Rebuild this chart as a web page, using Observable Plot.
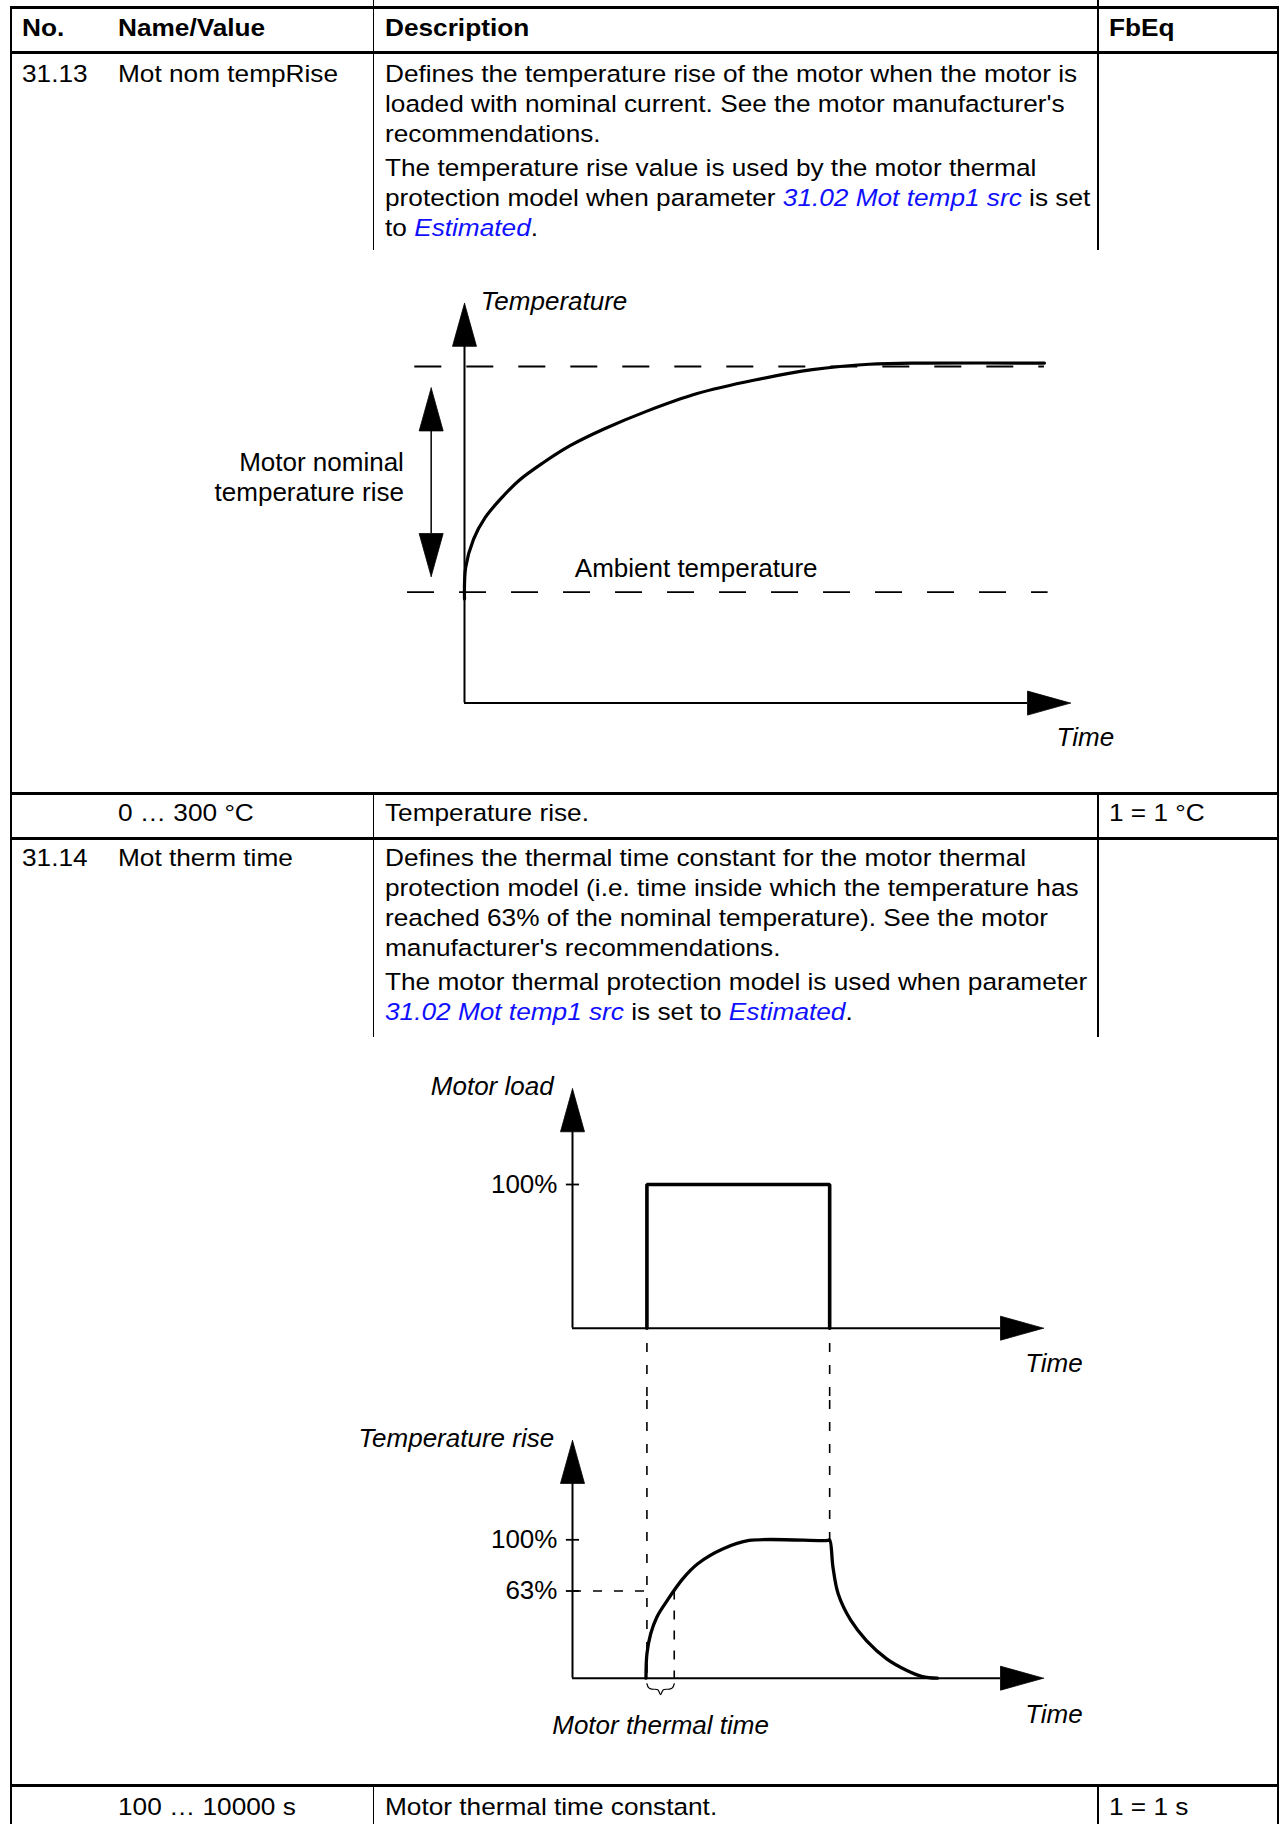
<!DOCTYPE html>
<html><head><meta charset="utf-8">
<script src="https://cdn.jsdelivr.net/npm/d3@7"></script>
<script src="https://cdn.jsdelivr.net/npm/@observablehq/plot@0.6"></script>
<style>
html,body{margin:0;padding:0;background:#fff;}
#page{position:relative;width:1283px;height:1824px;overflow:hidden;font-family:"Liberation Sans",Arial,Helvetica,sans-serif;color:#000;}
.ln{position:absolute;background:#000;}
.t{position:absolute;white-space:pre;font-size:24.5px;line-height:30px;transform:scaleX(1.07);transform-origin:0 0;}
.b{font-weight:bold;}
.lk{color:#1010ff;font-style:italic;}
svg.dg{position:absolute;left:0;}
</style></head><body><div id="page"></div>
<script>
// ---------------- table content ----------------
const headerLabels = ["No.", "Name/Value", "Description", "FbEq"];
const paramNumbers = ["31.13", "31.14"];
const paramNames = ["Mot nom tempRise", "Mot therm time"];
const desc3113 = [
  "Defines the temperature rise of the motor when the motor is",
  "loaded with nominal current. See the motor manufacturer's",
  "recommendations.",
  "The temperature rise value is used by the motor thermal",
  "protection model when parameter {31.02 Mot temp1 src} is set",
  "to {Estimated}."
];
const desc3114 = [
  "Defines the thermal time constant for the motor thermal",
  "protection model (i.e. time inside which the temperature has",
  "reached 63% of the nominal temperature). See the motor",
  "manufacturer's recommendations.",
  "The motor thermal protection model is used when parameter",
  "{31.02 Mot temp1 src} is set to {Estimated}."
];
const valueRanges = ["0 \u2026 300 \u00b0C", "100 \u2026 10000 s"];
const valueDescriptions = ["Temperature rise.", "Motor thermal time constant."];
const fbEqValues = ["1 = 1 \u00b0C", "1 = 1 s"];

// ---------------- diagram 1: temperature rise ----------------
const riseTime = [0, 0.2, 1.5, 3.4, 6.2, 9.0, 12.8, 17.5, 23.2, 29.9, 38.4, 47.9, 57.4, 66.8, 76.3, 95.7];
const riseTemp = [-3, 11, 23.5, 33, 42, 49.5, 57, 65, 72.5, 80, 88, 94, 98.6, 101, 101.5, 101.5];
const levelNames = ["Ambient temperature", "Motor nominal temperature"];
const levelValues = [0, 100];

// ---------------- diagram 2: motor load & temperature rise ----------------
const loadTime = [15.8, 15.8, 54.6, 54.6];
const loadPct = [0, 100, 100, 0];
const heatTime = [15.6, 15.8, 16.6, 17.9, 20.1, 23.4, 26.6, 32.0, 37.5, 54.2, 54.6, 55.3, 56.4, 59.1, 62.4, 66.7, 71.0, 74.3, 77.5];
const heatPct  = [0, 17.6, 32.1, 44.1, 56.1, 71.8, 82.7, 93.5, 99.5, 99.5, 100, 80.2, 61.0, 41.7, 27.2, 14.0, 5.6, 1.2, 0];
const loadTicks = [100];
const tempTicks = [100, 63];
const thermalTimeSpan = [15.8, 21.6]; // load step, 63 % crossing

// ---------------- layout helpers ----------------
const page = document.getElementById("page");
function line(x, y, w, h) {
  const d = document.createElement("div");
  d.className = "ln";
  Object.assign(d.style, {left: x + "px", top: y + "px", width: w + "px", height: h + "px"});
  page.appendChild(d);
}
function hline(y, x1, x2, t) { line(x1, y - t / 2, x2 - x1, t); }
function vline(x, y1, y2, t) { line(x - t / 2, y1, t, y2 - y1); }
function text(str, x, baseline, cls) {
  const d = document.createElement("div");
  d.className = "t" + (cls ? " " + cls : "");
  d.style.left = x + "px";
  d.style.top = (baseline - 23.5) + "px";
  str.split(/(\{[^}]*\})/).forEach(part => {
    if (!part) return;
    const s = document.createElement("span");
    if (part.startsWith("{")) { s.className = "lk"; s.textContent = part.slice(1, -1); }
    else s.textContent = part;
    d.appendChild(s);
  });
  page.appendChild(d);
}

const XL = 10.5, XC1 = 373.5, XC2 = 1098, XR = 1278;
const colX = [22, 118, 385, 1109];

// frame and rules
hline(7.5, XL - 1, XR + 1, 2.2);
vline(XL, 7.5, 1824, 2);
vline(XR, 7.5, 1824, 2);
hline(52.5, XL, XR, 2.4);
hline(793.5, XL, XR, 2.6);
hline(838.5, XL, XR, 2.6);
hline(1785.5, XL, XR, 2.6);
for (const x of [XC1, XC2]) {
  vline(x, 0, 250, 1.6);
  vline(x, 793.5, 1036.5, 1.6);
  vline(x, 1785.5, 1824, 1.6);
}

// header
headerLabels.forEach((h, i) => text(h, colX[i], 36, "b"));
// 31.13
text(paramNumbers[0], colX[0], 82);
text(paramNames[0], colX[1], 82);
[82, 112, 142, 176, 206, 236].forEach((b, i) => text(desc3113[i], colX[2], b));
text(valueRanges[0], colX[1], 821.5);
text(valueDescriptions[0], colX[2], 821.5);
text(fbEqValues[0], colX[3], 821.5);
// 31.14
text(paramNumbers[1], colX[0], 866);
text(paramNames[1], colX[1], 866);
[866, 896, 926, 956, 990, 1020].forEach((b, i) => text(desc3114[i], colX[2], b));
text(valueRanges[1], colX[1], 1815);
text(valueDescriptions[1], colX[2], 1815);
text(fbEqValues[1], colX[3], 1815);

// ---------------- plot helpers ----------------
const FONT = "'Liberation Sans', Arial, Helvetica, sans-serif";
const FS = 26;
const HEAD_LEN = 43, HEAD_HALF = 12;
function makeScales(xs, ys) {
  return [d3.scaleLinear(xs.domain, xs.range), d3.scaleLinear(ys.domain, ys.range)];
}
// arrow head polygons (filled), tips given in data units
function heads(specs, xs, ys) {
  const [sx, sy] = makeScales(xs, ys);
  const out = [];
  specs.forEach(([x, y, dir], k) => {
    const px = sx(x), py = sy(y);
    let p;
    if (dir === "up") p = [[px, py], [px - HEAD_HALF, py + HEAD_LEN], [px + HEAD_HALF, py + HEAD_LEN]];
    else if (dir === "down") p = [[px, py], [px - HEAD_HALF, py - HEAD_LEN], [px + HEAD_HALF, py - HEAD_LEN]];
    else p = [[px, py], [px - HEAD_LEN, py - HEAD_HALF], [px - HEAD_LEN, py + HEAD_HALF]];
    p.concat([p[0]]).forEach(([a, b]) => out.push({k, x: sx.invert(a), y: sy.invert(b)}));
  });
  return out;
}
function headBase(v, dir, xs, ys) {
  const [sx, sy] = makeScales(xs, ys);
  if (dir === "up") return sy.invert(sy(v) + HEAD_LEN);
  if (dir === "down") return sy.invert(sy(v) - HEAD_LEN);
  return sx.invert(sx(v) - HEAD_LEN);
}
function place(svg, top) {
  svg.classList.add("dg");
  svg.style.top = top + "px";
  page.appendChild(svg);
}
const headMark = (data) => Plot.line(data, {x: "x", y: "y", z: "k", fill: "black", stroke: "black", strokeWidth: 0.8, curve: "linear"});
const label = (data, opts) => Plot.text(data, {x: "x", y: "y", text: "text", fontSize: FS, fill: "black", ...opts});

// ---------------- diagram 1 ----------------
{
  const top = 250;
  const xs = {domain: [0, 100], range: [464, 1070]};
  const ys = {domain: [0, 100], range: [591.6 - top, 366 - top]};
  const axisTipT = 128, axisBottom = -49.2, axisTipX = 100;
  const arrowX = -5.5, arrowTop = 90.5, arrowBottom = 6.9;
  const curve = riseTime.map((t, i) => ({t, v: riseTemp[i]}));
  const levels = [
    {v: levelValues[0], x1: -9.4, x2: 96.3},
    {v: levelValues[1], x1: -8.2, x2: 95.7}
  ];
  const hd = heads([[0, axisTipT, "up"], [axisTipX, axisBottom, "right"], [arrowX, arrowTop, "up"], [arrowX, arrowBottom, "down"]], xs, ys);
  const svg = Plot.plot({
    width: 1283, height: 545,
    x: {...xs, axis: null}, y: {...ys, axis: null},
    style: {background: "none", overflow: "visible", fontFamily: FONT},
    marks: [
      Plot.ruleY(levels, {y: "v", x1: "x1", x2: "x2", stroke: "black", strokeWidth: 1.9, strokeDasharray: "27,25"}),
      Plot.ruleX([0], {y1: axisBottom, y2: headBase(axisTipT, "up", xs, ys), stroke: "black", strokeWidth: 2}),
      Plot.ruleY([axisBottom], {x1: 0, x2: headBase(axisTipX, "right", xs, ys), stroke: "black", strokeWidth: 2}),
      Plot.ruleX([arrowX], {y1: headBase(arrowBottom, "down", xs, ys), y2: headBase(arrowTop, "up", xs, ys), stroke: "black", strokeWidth: 1.5}),
      headMark(hd),
      Plot.line(curve, {x: "t", y: "v", curve: "catmull-rom", stroke: "black", strokeWidth: 3.2}),
      label([{x: 2.7, y: 128.7, text: "Temperature"}], {textAnchor: "start", fontStyle: "italic"}),
      label([{x: 97.7, y: -64.7, text: "Time"}], {textAnchor: "start", fontStyle: "italic"}),
      label([{x: 18.2, y: 10.6, text: levelNames[0]}], {textAnchor: "start"}),
      label([{x: -10, y: 51.3, text: "Motor nominal\ntemperature rise"}], {textAnchor: "end", lineHeight: 1.17})
    ]
  });
  place(svg, top);
}

// ---------------- diagram 2a: motor load ----------------
{
  const top = 1040;
  const xs = {domain: [0, 100], range: [572, 1043]};
  const ys = {domain: [0, 100], range: [1327.7 - top, 1184 - top]};
  const tipY = 166.6, tipX = 100, bottom = -50.3;
  const pulse = loadTime.map((t, i) => ({t, v: loadPct[i]}));
  const hd = heads([[0, tipY, "up"], [tipX, 0, "right"]], xs, ys);
  const svg = Plot.plot({
    width: 1283, height: 360,
    x: {...xs, axis: null}, y: {...ys, axis: null},
    style: {background: "none", overflow: "visible", fontFamily: FONT},
    marks: [
      Plot.ruleX([loadTime[0], loadTime[2]], {y1: -10.6, y2: bottom, stroke: "black", strokeWidth: 1.6, strokeDasharray: "9,13"}),
      Plot.ruleX([0], {y1: 0, y2: headBase(tipY, "up", xs, ys), stroke: "black", strokeWidth: 2}),
      Plot.ruleY([0], {x1: 0, x2: headBase(tipX, "right", xs, ys), stroke: "black", strokeWidth: 2}),
      Plot.ruleY(loadTicks, {x1: -1.3, x2: 1.5, stroke: "black", strokeWidth: 1.8}),
      headMark(hd),
      Plot.line(pulse, {x: "t", y: "v", stroke: "black", strokeWidth: 3.6, strokeLinejoin: "miter"}),
      label([{x: -4.0, y: 167.9, text: "Motor load"}], {textAnchor: "end", fontStyle: "italic"}),
      label(loadTicks.map(v => ({x: -3.2, y: v, text: v + "%"})), {textAnchor: "end"}),
      label([{x: 96.1, y: -24.8, text: "Time"}], {textAnchor: "start", fontStyle: "italic"})
    ]
  });
  place(svg, top);
}

// ---------------- diagram 2b: temperature rise ----------------
{
  const top = 1400;
  const xs = {domain: [0, 100], range: [572, 1043]};
  const ys = {domain: [0, 100], range: [1677.7 - top, 1539.3 - top]};
  const tipY = 171.8, tipX = 100, topEdge = 200.7;
  const heat = heatTime.map((t, i) => ({t, v: heatPct[i]}));
  const [t0, t63] = thermalTimeSpan;
  const mid = (t0 + t63) / 2;
  const brace = [
    [t0, -4.0], [t0 + 0.35, -6.8], [t0 + 1.0, -7.9], [mid - 0.6, -8.3], [mid, -11.8],
    [mid + 0.6, -8.3], [t63 - 1.0, -7.9], [t63 - 0.35, -6.8], [t63, -4.0]
  ].map(([t, v]) => ({t, v}));
  const hd = heads([[0, tipY, "up"], [tipX, 0, "right"]], xs, ys);
  const svg = Plot.plot({
    width: 1283, height: 360,
    x: {...xs, axis: null}, y: {...ys, axis: null},
    style: {background: "none", overflow: "visible", fontFamily: FONT},
    marks: [
      Plot.ruleX([loadTime[0]], {y1: topEdge, y2: 0, stroke: "black", strokeWidth: 1.6, strokeDasharray: "9,13"}),
      Plot.ruleX([loadTime[2]], {y1: topEdge, y2: 100, stroke: "black", strokeWidth: 1.6, strokeDasharray: "9,13"}),
      Plot.ruleY([tempTicks[1]], {x1: 0, x2: t0, stroke: "black", strokeWidth: 1.6, strokeDasharray: "9,12"}),
      Plot.ruleX([t63], {y1: tempTicks[1], y2: 0, stroke: "black", strokeWidth: 1.6, strokeDasharray: "9,11"}),
      Plot.ruleX([0], {y1: 0, y2: headBase(tipY, "up", xs, ys), stroke: "black", strokeWidth: 2}),
      Plot.ruleY([0], {x1: 0, x2: headBase(tipX, "right", xs, ys), stroke: "black", strokeWidth: 2}),
      Plot.ruleY(tempTicks, {x1: -1.3, x2: 1.5, stroke: "black", strokeWidth: 1.8}),
      headMark(hd),
      Plot.line(heat, {x: "t", y: "v", curve: "catmull-rom", stroke: "black", strokeWidth: 3.3}),
      Plot.line(brace, {x: "t", y: "v", curve: "catmull-rom", stroke: "black", strokeWidth: 1.2}),
      label([{x: -3.9, y: 173.4, text: "Temperature rise"}], {textAnchor: "end", fontStyle: "italic"}),
      label(tempTicks.map(v => ({x: -3.2, y: v, text: v + "%"})), {textAnchor: "end"}),
      label([{x: 96.1, y: -26.7, text: "Time"}], {textAnchor: "start", fontStyle: "italic"}),
      label([{x: mid, y: -34.6, text: "Motor thermal time"}], {textAnchor: "middle", fontStyle: "italic"})
    ]
  });
  place(svg, top);
}
</script></body></html>
